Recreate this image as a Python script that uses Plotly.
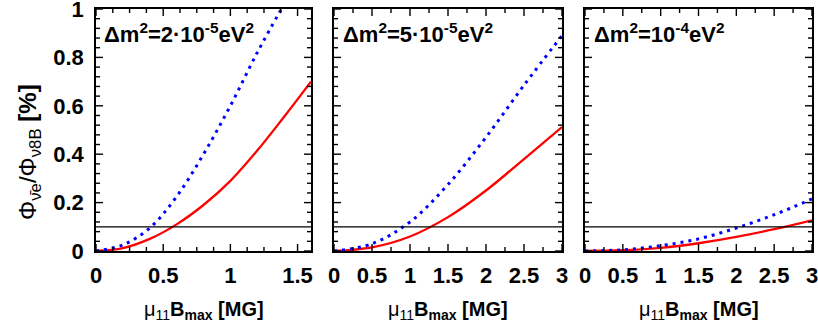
import plotly.graph_objects as go

# ---- data ----
titles = ["Δm<sup>2</sup>=2·10<sup>-5</sup>eV<sup>2</sup>",
          "Δm<sup>2</sup>=5·10<sup>-5</sup>eV<sup>2</sup>",
          "Δm<sup>2</sup>=10<sup>-4</sup>eV<sup>2</sup>"]
x_title = "μ<sub>11</sub><b>B<sub>max</sub> [MG]</b>"
y_title = "Φ<sub>ν̄e</sub>/Φ<sub>ν8B</sub> <b>[%]</b>"
x_ranges = [[0, 1.6], [0, 3], [0, 3]]
x_major_step = 0.5
x_minor_steps = [0.125, 0.25, 0.25]
y_major_step = 0.2
y_minor_step = 0.04
threshold = 0.1

p1_x = [0, 0.2, 0.4, 0.6, 0.8, 1.0, 1.2, 1.4, 1.6]
p1_red = [0, 0.012, 0.05, 0.11, 0.19, 0.29, 0.415, 0.555, 0.70]
p1_blue_x = [0, 0.2, 0.4, 0.6, 0.8, 1.0, 1.2, 1.4]
p1_blue = [0, 0.025, 0.095, 0.225, 0.40, 0.60, 0.82, 1.02]

p2_x = [0, 0.5, 1.0, 1.5, 2.0, 2.5, 3.0]
p2_red = [0, 0.015, 0.06, 0.14, 0.25, 0.38, 0.512]
p2_blue = [0, 0.03, 0.12, 0.275, 0.47, 0.685, 0.89]

p3_x = [0, 0.5, 1.0, 1.5, 2.0, 2.5, 3.0]
p3_red = [0, 0.003, 0.013, 0.032, 0.058, 0.09, 0.127]
p3_blue = [0, 0.005, 0.022, 0.05, 0.095, 0.15, 0.215]

panels = [
    (p1_x, p1_red, p1_blue_x, p1_blue),
    (p2_x, p2_red, p2_x, p2_blue),
    (p3_x, p3_red, p3_x, p3_blue),
]

W, H = 818, 327
x_px = [(96, 311), (334, 562), (585, 812)]
y_px = (9, 251)
MAJ_LEN, MIN_LEN = 7, 4

fig = go.Figure()
FONT = "Liberation Sans"
plain = dict(showgrid=False, zeroline=False, automargin=False)
tick_line = dict(color="black", width=1.4)


def tick_values(lo, hi, step):
    vals, k = [], 0
    while lo + k * step <= hi + 1e-9:
        vals.append(round(lo + k * step, 6))
        k += 1
    return vals


def is_major(v, major):
    r = v / major
    return abs(r - round(r)) < 1e-6


for i, (xr, yr, xb, yb) in enumerate(panels):
    n = "" if i == 0 else str(i + 1)
    fig.add_trace(go.Scatter(x=xr, y=yr, mode="lines", line=dict(color="#ff0000", width=2.3, shape="spline"),
                             xaxis="x" + n, yaxis="y" + n, showlegend=False, hoverinfo="skip"))
    fig.add_trace(go.Scatter(x=xb, y=yb, mode="lines",
                             line=dict(color="#0000ff", width=3, dash="3px,5px", shape="spline"),
                             xaxis="x" + n, yaxis="y" + n, showlegend=False, hoverinfo="skip"))
    fig.add_shape(type="line", xref="x" + n + " domain", yref="y" + n, x0=0, x1=1, y0=threshold, y1=threshold,
                  line=dict(color="black", width=1.2))
    fig.add_annotation(text="<b>" + titles[i] + "</b>", xref="x" + n + " domain", yref="y" + n + " domain",
                       x=0.03, y=0.965, xanchor="left", yanchor="top", showarrow=False,
                       font=dict(family=FONT, size=22, color="black"))
    fig.add_annotation(text=x_title, xref="paper", yref="paper",
                       x=(x_px[i][0] + x_px[i][1]) / 2 / W, y=1 - 310 / H,
                       xanchor="center", yanchor="middle", showarrow=False,
                       font=dict(family=FONT, size=20, color="black"))

    xdom = [x_px[i][0] / W, x_px[i][1] / W]
    ydom = [1 - y_px[1] / H, 1 - y_px[0] / H]
    pw = x_px[i][1] - x_px[i][0]
    ph = y_px[1] - y_px[0]

    xa = dict(domain=xdom, range=x_ranges[i], anchor="y" + n, dtick=x_major_step, tick0=0, ticks="",
              showline=True, linecolor="black", linewidth=1.5, mirror=True,
              ticklabeloverflow="allow", ticklabelstandoff=4,
              tickfont=dict(family=FONT, size=22, color="black", weight="bold"), **plain)
    ya = dict(domain=ydom, range=[0, 1], anchor="x" + n, dtick=y_major_step, tick0=0, ticks="",
              showline=True, linecolor="black", linewidth=1.5, mirror=True,
              showticklabels=(i == 0), ticklabeloverflow="allow", ticklabelstandoff=6,
              tickfont=dict(family=FONT, size=22, color="black", weight="bold"), **plain)
    fig.update_layout(**{"xaxis" + n: xa, "yaxis" + n: ya})

    # inward tick marks on all four sides, placed through the axes' own scales
    for v in tick_values(x_ranges[i][0], x_ranges[i][1], x_minor_steps[i]):
        L = (MAJ_LEN if is_major(v, x_major_step) else MIN_LEN) / ph
        fig.add_shape(type="line", xref="x" + n, yref="y" + n + " domain", x0=v, x1=v, y0=0, y1=L, line=tick_line)
        fig.add_shape(type="line", xref="x" + n, yref="y" + n + " domain", x0=v, x1=v, y0=1, y1=1 - L, line=tick_line)
    for v in tick_values(0, 1, y_minor_step):
        L = (MAJ_LEN if is_major(v, y_major_step) else MIN_LEN) / pw
        fig.add_shape(type="line", xref="x" + n + " domain", yref="y" + n, x0=0, x1=L, y0=v, y1=v, line=tick_line)
        fig.add_shape(type="line", xref="x" + n + " domain", yref="y" + n, x0=1, x1=1 - L, y0=v, y1=v, line=tick_line)

fig.add_annotation(text=y_title, xref="paper", yref="paper", x=30 / W, y=1 - 152 / H,
                   xanchor="center", yanchor="middle", textangle=-90, showarrow=False,
                   font=dict(family=FONT, size=24, color="black"))

fig.update_layout(width=W, height=H, margin=dict(l=0, r=0, t=0, b=0),
                  paper_bgcolor="white", plot_bgcolor="white")
fig.write_html("out.html", config={"displayModeBar": False},
               post_script="document.body.style.margin='0';document.body.style.overflow='hidden';")
